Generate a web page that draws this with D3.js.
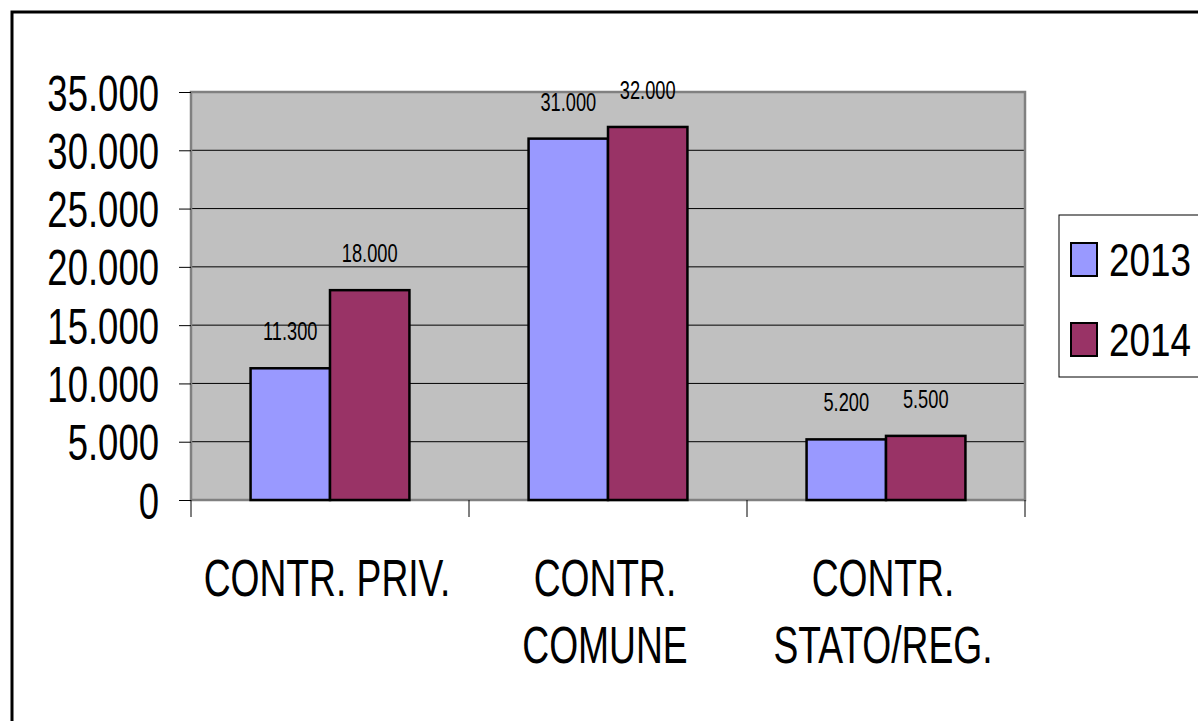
<!DOCTYPE html>
<html>
<head>
<meta charset="utf-8">
<script src="https://cdn.jsdelivr.net/npm/d3@7"></script>
<style>
  body { margin: 0; background: #fff; }
  svg { display: block; font-family: "Liberation Sans", Arial, sans-serif; }
</style>
</head>
<body>
<script>
// chart data
var categories = ["CONTR. PRIV.", "CONTR.\nCOMUNE", "CONTR.\nSTATO/REG."];
var years = ["2013", "2014"];
var values2013 = [11300, 31000, 5200];
var values2014 = [18000, 32000, 5500];
var yTicks = [0, 5000, 10000, 15000, 20000, 25000, 30000, 35000];
var colors = ["#9999ff", "#993366"];

var width = 1198, height = 721;
var plot = { left: 191, top: 92, right: 1025, bottom: 500 };
var squeeze = 0.73; // narrow text like the original

var fmt = function(v) { return d3.format(",")(v).replace(/,/g, "."); };

var svg = d3.select("body").append("svg")
    .attr("width", width)
    .attr("height", height);

// outer frame
svg.append("rect")
    .attr("x", 12).attr("y", 12)
    .attr("width", 1250).attr("height", 800)
    .attr("fill", "none").attr("stroke", "#000").attr("stroke-width", 3);

var x = d3.scaleBand().domain(categories).range([plot.left, plot.right]);
var xInner = d3.scaleBand().domain(years)
    .range([0, x.bandwidth()]).paddingOuter(0.75 / 1.0).paddingInner(0);
var y = d3.scaleLinear().domain([0, 35000]).range([plot.bottom, plot.top]);

// plot background
svg.append("rect")
    .attr("x", plot.left).attr("y", plot.top)
    .attr("width", plot.right - plot.left).attr("height", plot.bottom - plot.top)
    .attr("fill", "#c0c0c0");

// gridlines
svg.append("g").selectAll("line")
    .data(yTicks.filter(function(d) { return d > 0 && d < 35000; }))
    .enter().append("line")
    .attr("x1", plot.left).attr("x2", plot.right)
    .attr("y1", function(d) { return y(d); }).attr("y2", function(d) { return y(d); })
    .attr("stroke", "#000").attr("stroke-width", 1);

// plot border
svg.append("rect")
    .attr("x", plot.left).attr("y", plot.top)
    .attr("width", plot.right - plot.left).attr("height", plot.bottom - plot.top)
    .attr("fill", "none").attr("stroke", "#808080").attr("stroke-width", 2.5);

// y axis
var yAxis = svg.append("g")
    .attr("transform", "translate(" + plot.left + ",0)")
    .call(d3.axisLeft(y).tickValues(yTicks).tickSize(12).tickFormat(fmt));
yAxis.select(".domain").remove();
yAxis.selectAll(".tick line").attr("stroke", "#000");
yAxis.selectAll(".tick text")
    .attr("x", -32 / squeeze)
    .attr("dy", "0.36em")
    .attr("transform", "scale(" + squeeze + ",1)")
    .style("font-family", "Liberation Sans, Arial, sans-serif")
    .style("font-size", "50px")
    .attr("fill", "#000");

// category ticks between groups
var xEdges = categories.map(function(c) { return x(c); }).concat([plot.right]);
svg.append("g").selectAll("line")
    .data(xEdges).enter().append("line")
    .attr("x1", function(d) { return d; }).attr("x2", function(d) { return d; })
    .attr("y1", plot.bottom).attr("y2", plot.bottom + 17)
    .attr("stroke", "#000").attr("stroke-width", 1);

// bars
var rows = categories.map(function(c, i) {
    return { cat: c, vals: [values2013[i], values2014[i]] };
});
var groups = svg.append("g").selectAll("g")
    .data(rows).enter().append("g")
    .attr("transform", function(d) { return "translate(" + x(d.cat) + ",0)"; });

groups.selectAll("rect")
    .data(function(d) { return d.vals.map(function(v, j) { return { year: years[j], v: v, j: j }; }); })
    .enter().append("rect")
    .attr("x", function(d) { return xInner(d.year); })
    .attr("y", function(d) { return y(d.v); })
    .attr("width", xInner.bandwidth())
    .attr("height", function(d) { return plot.bottom - y(d.v); })
    .attr("fill", function(d) { return colors[d.j]; })
    .attr("stroke", "#000").attr("stroke-width", 2.5);

// value labels
groups.selectAll("text.val")
    .data(function(d) { return d.vals.map(function(v, j) { return { year: years[j], v: v }; }); })
    .enter().append("text")
    .attr("class", "val")
    .attr("transform", function(d) {
        return "translate(" + (xInner(d.year) + xInner.bandwidth() / 2) + "," + (y(d.v) - 28) + ") scale(" + squeeze + ",1)";
    })
    .attr("text-anchor", "middle")
    .style("font-size", "25px")
    .text(function(d) { return fmt(d.v); });

// category labels
var catLabels = svg.append("g").selectAll("text")
    .data(categories).enter().append("text")
    .attr("transform", function(d) {
        return "translate(" + (x(d) + x.bandwidth() / 2 - 3) + ",596) scale(" + squeeze + ",1)";
    })
    .attr("text-anchor", "middle")
    .style("font-size", "51px");
catLabels.selectAll("tspan")
    .data(function(d) { return d.split("\n"); })
    .enter().append("tspan")
    .attr("x", 0)
    .attr("dy", function(d, i) { return i === 0 ? 0 : 67; })
    .text(function(d) { return d; });

// legend
var legend = svg.append("g");
legend.append("rect")
    .attr("x", 1059).attr("y", 215)
    .attr("width", 200).attr("height", 162)
    .attr("fill", "#fff").attr("stroke", "#000").attr("stroke-width", 1);
var items = legend.selectAll("g.item")
    .data(years).enter().append("g")
    .attr("class", "item")
    .attr("transform", function(d, i) { return "translate(1071," + (243 + i * 80) + ")"; });
items.append("rect")
    .attr("width", 26).attr("height", 33)
    .attr("fill", function(d, i) { return colors[i]; })
    .attr("stroke", "#000").attr("stroke-width", 2);
items.append("text")
    .attr("transform", "translate(38,33) scale(0.8,1)")
    .style("font-size", "46px")
    .text(function(d) { return d; });
</script>
</body>
</html>
